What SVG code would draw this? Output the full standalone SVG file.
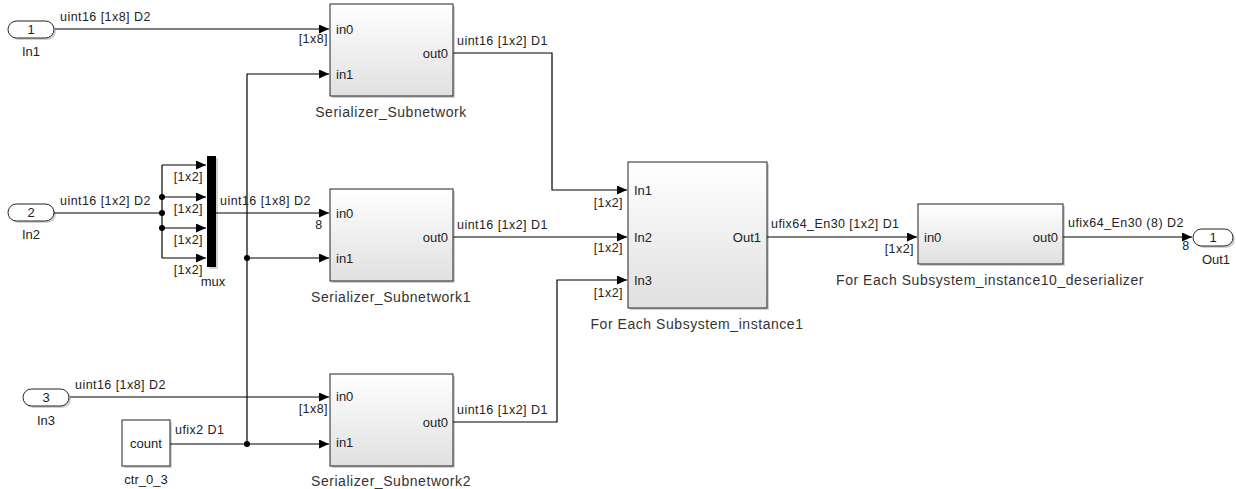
<svg xmlns="http://www.w3.org/2000/svg" width="1236" height="489" viewBox="0 0 1236 489">
<style>
text{font-family:"Liberation Sans",Arial,sans-serif;fill:#222}
.sig{font-size:12.5px;letter-spacing:0.45px}
.nm{font-size:14px;text-anchor:middle;fill:#333;letter-spacing:0.55px}
.pt{font-size:13px}
.r{text-anchor:end}
.c{text-anchor:middle}
.blk{fill:url(#g);stroke:#222;stroke-width:1}
.sh{fill:#000;opacity:0.18}
.w{fill:none;stroke:#000;stroke-width:1.2}
.dot{fill:#000}
.pill{fill:#fff;stroke:#222;stroke-width:1}
</style>
<defs>
<linearGradient id="g" x1="0" y1="0" x2="0" y2="1">
<stop offset="0" stop-color="#ffffff"/>
<stop offset="1" stop-color="#e0e0e0"/>
</linearGradient>
<marker id="a" markerUnits="userSpaceOnUse" markerWidth="11" markerHeight="9" refX="10" refY="4.5" orient="auto">
<path d="M0,0 L10,4.5 L0,9 z" fill="#000"/>
</marker>
</defs>
<rect width="1236" height="489" fill="#fff"/>

<g id="connectors">
<path class="w" d="M55,29 H329" marker-end="url(#a)"/>
<path class="w" d="M53,213 H162"/>
<path class="w" d="M162,165 V258"/>
<path class="w" d="M162,165 H206" marker-end="url(#a)"/>
<path class="w" d="M162,197 H206" marker-end="url(#a)"/>
<path class="w" d="M162,228 H206" marker-end="url(#a)"/>
<path class="w" d="M162,258 H206" marker-end="url(#a)"/>
<circle class="dot" cx="162" cy="197" r="3"/>
<circle class="dot" cx="162" cy="213" r="3"/>
<circle class="dot" cx="162" cy="228" r="3"/>
<path class="w" d="M216,213 H329" marker-end="url(#a)"/>
<path class="w" d="M170,444 H329" marker-end="url(#a)"/>
<path class="w" d="M247,444 V74 H329" marker-end="url(#a)"/>
<path class="w" d="M247,258 H329" marker-end="url(#a)"/>
<circle class="dot" cx="247" cy="258" r="3"/>
<circle class="dot" cx="247" cy="444" r="3"/>
<path class="w" d="M70,397 H329" marker-end="url(#a)"/>
<path class="w" d="M453,53 H552 V190 H627" marker-end="url(#a)"/>
<path class="w" d="M453,237 H627" marker-end="url(#a)"/>
<path class="w" d="M453,422 H557 V280 H627" marker-end="url(#a)"/>
<path class="w" d="M767,237 H917" marker-end="url(#a)"/>
<path class="w" d="M1063,237 H1192" marker-end="url(#a)"/>

<text class="sig" x="60" y="21">uint16 [1x8] D2</text>
<text class="sig r" x="328" y="43">[1x8]</text>
<text class="sig" x="457" y="45">uint16 [1x2] D1</text>
<text class="sig" x="60" y="205">uint16 [1x2] D2</text>
<text class="sig r" x="203" y="181">[1x2]</text>
<text class="sig r" x="203" y="213">[1x2]</text>
<text class="sig r" x="203" y="244">[1x2]</text>
<text class="sig r" x="203" y="274">[1x2]</text>
<text class="sig" x="220" y="205">uint16 [1x8] D2</text>
<text class="sig c" x="319" y="229">8</text>
<text class="sig" x="457" y="229">uint16 [1x2] D1</text>
<text class="sig" x="75" y="389">uint16 [1x8] D2</text>
<text class="sig r" x="328" y="413">[1x8]</text>
<text class="sig" x="175" y="434">ufix2 D1</text>
<text class="sig" x="457" y="414">uint16 [1x2] D1</text>
<text class="sig r" x="623" y="207">[1x2]</text>
<text class="sig r" x="623" y="252">[1x2]</text>
<text class="sig r" x="623" y="297">[1x2]</text>
<text class="sig" x="771" y="228">ufix64_En30 [1x2] D1</text>
<text class="sig r" x="914" y="253">[1x2]</text>
<text class="sig" x="1068" y="227">ufix64_En30 (8) D2</text>
<text class="sig c" x="1186" y="250">8</text>
</g>

<g id="In1">
<rect class="sh" x="10" y="23" width="46" height="17" rx="8.5"/>
<rect class="pill" x="8" y="21" width="46" height="17" rx="8.5"/>
<text class="pt c" x="31" y="34">1</text>
<text class="pt c" x="31" y="56">In1</text>
</g>
<g id="In2">
<rect class="sh" x="10" y="206" width="46" height="17" rx="8.5"/>
<rect class="pill" x="8" y="204" width="46" height="17" rx="8.5"/>
<text class="pt c" x="31" y="217">2</text>
<text class="pt c" x="31" y="239">In2</text>
</g>
<g id="In3">
<rect class="sh" x="25" y="391" width="46" height="17" rx="8.5"/>
<rect class="pill" x="23" y="389" width="46" height="17" rx="8.5"/>
<text class="pt c" x="46" y="402">3</text>
<text class="pt c" x="46" y="425">In3</text>
</g>
<g id="mux">
<rect class="sh" x="209" y="158" width="9" height="111"/>
<rect x="207" y="156" width="9" height="111" fill="#000"/>
<text class="pt c" x="213" y="286">mux</text>
</g>
<g id="ctr_0_3">
<rect class="sh" x="124" y="422" width="48" height="46"/>
<rect x="122" y="420" width="48" height="46" fill="#fff" stroke="#222"/>
<text class="pt c" x="146" y="448">count</text>
<text class="pt c" x="146" y="484">ctr_0_3</text>
</g>
<g id="Serializer_Subnetwork">
<rect class="sh" x="332" y="6" width="123" height="92"/>
<rect class="blk" x="330" y="4" width="123" height="92"/>
<text class="pt" x="336" y="34">in0</text>
<text class="pt" x="336" y="79">in1</text>
<text class="pt r" x="448" y="58">out0</text>
<text class="nm" x="391" y="117">Serializer_Subnetwork</text>
</g>
<g id="Serializer_Subnetwork1">
<rect class="sh" x="332" y="191" width="123" height="92"/>
<rect class="blk" x="330" y="189" width="123" height="92"/>
<text class="pt" x="336" y="218">in0</text>
<text class="pt" x="336" y="263">in1</text>
<text class="pt r" x="448" y="242">out0</text>
<text class="nm" x="391" y="302">Serializer_Subnetwork1</text>
</g>
<g id="Serializer_Subnetwork2">
<rect class="sh" x="332" y="376" width="123" height="92"/>
<rect class="blk" x="330" y="374" width="123" height="92"/>
<text class="pt" x="336" y="401">in0</text>
<text class="pt" x="336" y="447">in1</text>
<text class="pt r" x="448" y="427">out0</text>
<text class="nm" x="391" y="486">Serializer_Subnetwork2</text>
</g>
<g id="ForEach">
<rect class="sh" x="630" y="164" width="139" height="146"/>
<rect class="blk" x="628" y="162" width="139" height="146"/>
<text class="pt" x="634" y="195">In1</text>
<text class="pt" x="634" y="242">In2</text>
<text class="pt" x="634" y="285">In3</text>
<text class="pt r" x="761" y="242">Out1</text>
<text class="nm" x="697" y="329">For Each Subsystem_instance1</text>
</g>
<g id="Deserializer">
<rect class="sh" x="920" y="206" width="145" height="60"/>
<rect class="blk" x="918" y="204" width="145" height="60"/>
<text class="pt" x="924" y="242">in0</text>
<text class="pt r" x="1058" y="242">out0</text>
<text class="nm" x="990" y="285">For Each Subsystem_instance10_deserializer</text>
</g>
<g id="Out1">
<rect class="sh" x="1195" y="231" width="40" height="17" rx="8.5"/>
<rect class="pill" x="1193" y="229" width="40" height="17" rx="8.5"/>
<text class="pt c" x="1213" y="242">1</text>
<text class="pt c" x="1216" y="264">Out1</text>
</g>
</svg>
